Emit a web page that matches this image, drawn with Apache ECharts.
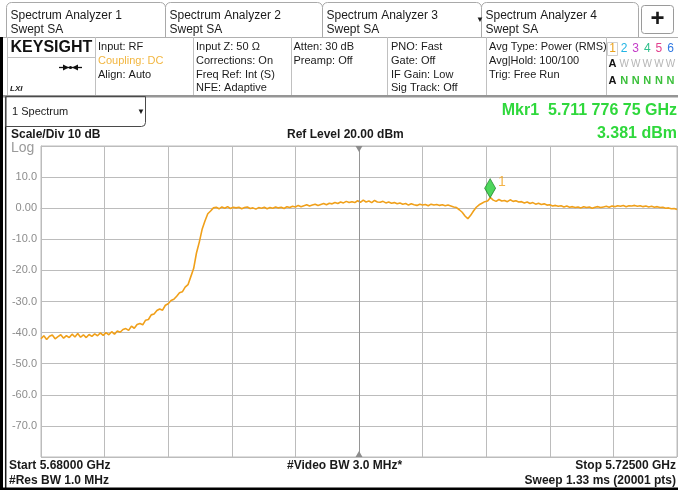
<!DOCTYPE html>
<html><head><meta charset="utf-8">
<script src="https://cdn.jsdelivr.net/npm/echarts/dist/echarts.min.js"></script>
<style>html,body{margin:0;padding:0;background:#fff}#c{width:678px;height:490px}</style>
</head><body><div id="c"></div>
<script>
// ---------------- data ----------------
const startFreqGHz = 5.68;
const stopFreqGHz = 5.725;
const freqStepMHz = 0.2;          // trace sample spacing (offset from start)
const refLevelDb = 20;
const bottomDb = -80;
const scaleDivDb = 10;
const freqDivMHz = 4.5;
// trace level (dBm), one value every 0.2 MHz from 5.680 GHz
const traceDb = [
  -42.0,-41.0,-42.2,-41.2,-40.8,-42.0,-41.3,-40.7,-41.8,-41.0,
  -41.6,-40.5,-41.4,-40.3,-41.5,-40.7,-41.6,-40.6,-41.2,-40.4,
  -41.0,-40.1,-40.9,-40.0,-40.7,-39.7,-40.5,-39.5,-39.9,-39.0,
  -38.7,-39.3,-37.9,-38.6,-37.4,-37.1,-37.5,-36.0,-35.8,-34.3,
  -34.0,-32.9,-32.4,-32.8,-31.2,-30.7,-29.7,-29.3,-28.3,-27.2,
  -26.9,-25.4,-24.6,-22.0,-19.4,-14.4,-10.9,-6.8,-4.1,-1.8,
  -0.9,0.1,0.3,-0.2,0.4,0.0,0.5,-0.1,0.3,0.1,
  0.3,-0.2,0.2,0.4,-0.1,0.1,-0.3,0.2,0.0,0.3,
  -0.2,0.2,0.0,0.4,0.1,0.3,-0.1,0.5,0.2,0.6,
  0.4,0.9,0.5,0.8,1.1,0.7,1.0,1.3,0.9,1.2,
  1.5,1.1,1.6,1.4,1.8,1.5,2.0,1.7,2.2,1.8,
  2.1,1.8,2.4,1.9,2.6,2.0,2.3,1.8,2.5,2.0,
  1.9,2.2,1.7,2.0,1.6,1.8,1.4,1.7,1.3,1.5,
  1.0,1.4,1.1,0.9,1.3,1.0,1.2,0.8,1.3,1.0,
  1.2,0.9,1.1,0.8,1.0,0.7,0.4,0.2,-0.5,-1.3,
  -2.5,-3.4,-2.3,-0.9,0.3,1.1,1.6,2.1,2.3,3.4,
  2.6,2.2,2.8,2.3,2.5,2.1,2.7,2.2,2.4,2.0,
  2.1,1.7,2.0,1.5,1.8,1.3,1.6,1.2,1.4,1.0,
  1.1,0.7,0.9,0.6,0.8,0.4,0.7,0.3,0.5,0.2,
  0.4,0.1,0.5,0.2,0.4,0.0,0.3,0.5,0.2,0.4,
  0.6,0.3,0.7,0.5,0.8,0.6,0.9,0.5,0.8,0.7,
  0.9,0.6,0.8,0.5,0.7,0.4,0.6,0.3,0.5,0.2,
  0.3,0.0,0.1,-0.2,-0.1,-0.4
];
const markerFreqGHz = 5.71177675;
const markerDb = 3.381;

// ---------------- texts ----------------
const tabTitles = ['Spectrum Analyzer 1','Spectrum Analyzer 2','Spectrum Analyzer 3','Spectrum Analyzer 4'];
const tabSub = 'Swept SA';
const col1 = ['Input: RF','Coupling: DC','Align: Auto'];
const col2 = ['Input Z: 50 \u03A9','Corrections: On','Freq Ref: Int (S)','NFE: Adaptive'];
const col3 = ['Atten: 30 dB','Preamp: Off'];
const col4 = ['PNO: Fast','Gate: Off','IF Gain: Low','Sig Track: Off'];
const col5 = ['Avg Type: Power (RMS)','Avg|Hold: 100/100','Trig: Free Run'];
const traceNums = ['1','2','3','4','5','6'];
const traceTypeRow = ['A','W','W','W','W','W'];
const traceDetRow = ['A','N','N','N','N','N'];

const FF = '"Liberation Sans", Arial, sans-serif';
const FONT = (sz, bold) => (bold ? 'bold ' : '') + sz + 'px ' + FF;

const g = [];
function T(text, x, y, sz, opt) {
  opt = opt || {};
  g.push({type:'text', silent:true, z:20, style:{text:text, x:x, y:y, font:FONT(sz, opt.bold),
    fill:opt.fill || '#1a1a1a', align:opt.align || 'left', verticalAlign:'middle'}});
}
function R(x, y, w, h, style, r) {
  g.push({type:'rect', silent:true, z:15, shape:{x:x, y:y, width:w, height:h, r:r || 0}, style:style});
}
function L(x1, y1, x2, y2, stroke, lw) {
  g.push({type:'line', silent:true, z:15, shape:{x1:x1, y1:y1, x2:x2, y2:y2}, style:{stroke:stroke, lineWidth:lw || 1}});
}

// tabs
const tabX = [6.5, 165.5, 322.5, 481.5], tabW = [159, 157, 159, 157];
tabTitles.forEach((t, i) => {
  R(tabX[i], 2.5, tabW[i], 35, {fill:'#fff', stroke:'#a9a9a9', lineWidth:1}, [5,5,0,0]);
  T(t, tabX[i] + 4, 16, 12);
  T(tabSub, tabX[i] + 4, 29.5, 12);
});
T('\u25BC', 476, 19.5, 8);
R(641.5, 5.5, 32, 28, {fill:'#fff', stroke:'#9a9a9a', lineWidth:1}, 3);
T('+', 657.5, 19.5, 24, {bold:true, align:'center'});

// header block
L(0, 37.5, 678, 37.5, '#b0b0b0', 1);
[7.5, 95.5, 193.5, 291.5, 387.5, 486.5, 606.5].forEach(x => L(x, 37, x, 95, '#c0c0c0', 1));
L(7, 57.5, 95, 57.5, '#c0c0c0', 1);
R(3, 95, 675, 2.5, {fill:'#959595'});
T('KEYSIGHT', 10.5, 48, 16, {bold:true, fill:'#111'});
// input icon
L(59, 67.5, 82, 67.5, '#111', 1.3);
g.push({type:'polygon', silent:true, z:16, shape:{points:[[63,64.5],[69,67.5],[63,70.5]]}, style:{fill:'#111'}});
g.push({type:'polygon', silent:true, z:16, shape:{points:[[78,64.5],[72,67.5],[78,70.5]]}, style:{fill:'#111'}});
g.push({type:'circle', silent:true, z:16, shape:{cx:70.5, cy:67.5, r:1.6}, style:{fill:'#111'}});
g.push({type:'text', silent:true, z:20, style:{text:'LXI', x:10, y:89, font:'italic bold 8px ' + FF, fill:'#222', verticalAlign:'middle'}});

const rowY = [47, 61, 74.5, 88];
col1.forEach((t, i) => T(t, 98, rowY[i], 11, {fill: i === 1 ? '#f2b640' : '#1a1a1a'}));
col2.forEach((t, i) => T(t, 196, rowY[i], 11));
col3.forEach((t, i) => T(t, 293.5, rowY[i], 11));
col4.forEach((t, i) => T(t, 391, rowY[i], 11));
col5.forEach((t, i) => T(t, 489, rowY[i], 11));

// trace indicator panel
const traceColors = ['#eaa21c','#22b4e4','#c43cc8','#2fc08c','#e2408e','#2f78e2'];
R(607.5, 42.5, 10, 13, {fill:'none', stroke:'#d0d0d0', lineWidth:1});
traceNums.forEach((t, i) => T(t, 612.5 + i * 11.6, 48.5, 12, {fill:traceColors[i], align:'center'}));
traceTypeRow.forEach((t, i) => T(t, 612.5 + i * 11.6, 64, i === 0 ? 11 : 10,
  {bold: i === 0, fill: i === 0 ? '#111' : '#b5b5b5', align:'center'}));
traceDetRow.forEach((t, i) => T(t, 612.5 + i * 11.6, 81, 11,
  {bold:true, fill: i === 0 ? '#111' : '#3cc03c', align:'center'}));

// left/bottom frame
R(0, 37, 3, 453, {fill:'#000'});
L(5.7, 97, 5.7, 490, '#1a1a1a', 1.5);
R(0, 487.5, 678, 2.5, {fill:'#000'});

// view selector
R(5.5, 96.5, 140, 30, {fill:'none', stroke:'#4a4a4a', lineWidth:1}, [0,0,4,0]);
T('1 Spectrum', 12, 112, 11);
T('\u25BC', 141, 112, 8, {align:'center'});

// annotations around the plot
const mkrOffsetMHz = (markerFreqGHz - startFreqGHz) * 1000;
const fmtSpaced = v => {
  const s = v.toFixed(8); const [ip, fp] = s.split('.');
  return ip + '.' + fp.slice(0,3) + ' ' + fp.slice(3,6) + ' ' + fp.slice(6,8);
};
T('Mkr1  ' + fmtSpaced(markerFreqGHz) + ' GHz', 677, 110.5, 16, {bold:true, fill:'#2fd83c', align:'right'});
T(markerDb.toFixed(3) + ' dBm', 677, 134, 16, {bold:true, fill:'#2fd83c', align:'right'});
T('Scale/Div ' + scaleDivDb + ' dB', 11, 134.5, 12, {bold:true});
T('Ref Level ' + refLevelDb.toFixed(2) + ' dBm', 287, 134.5, 12, {bold:true});
T('Log', 11, 148.5, 14, {fill:'#9a9a9a'});
T('Start ' + startFreqGHz.toFixed(5) + ' GHz', 9, 466, 12, {bold:true});
T('#Video BW 3.0 MHz*', 287, 466, 12, {bold:true});
T('Stop ' + stopFreqGHz.toFixed(5) + ' GHz', 676, 466, 12, {bold:true, align:'right'});
T('#Res BW 1.0 MHz', 9, 481, 12, {bold:true});
T('Sweep 1.33 ms (20001 pts)', 676, 481, 12, {bold:true, align:'right'});

const spanMHz = (stopFreqGHz - startFreqGHz) * 1000;
const gridColor = '#bcbcbc';

const chart = echarts.init(document.getElementById('c'), null, {renderer:'canvas'});
chart.setOption({
  animation:false,
  backgroundColor:'#fff',
  textStyle:{fontFamily:FF},
  grid:{left:41, top:146, width:636, height:311, show:true, borderColor:gridColor, borderWidth:1},
  xAxis:{type:'value', min:0, max:spanMHz, interval:freqDivMHz,
    axisLabel:{show:false}, axisTick:{show:false},
    axisLine:{show:true, lineStyle:{color:gridColor}},
    splitLine:{show:true, lineStyle:{color:gridColor, width:1}}},
  yAxis:{type:'value', min:bottomDb, max:refLevelDb, interval:scaleDivDb,
    axisTick:{show:false},
    axisLine:{show:true, lineStyle:{color:gridColor}},
    splitLine:{show:true, lineStyle:{color:gridColor, width:1}},
    axisLabel:{color:'#8c8c8c', fontSize:11, margin:4, fontFamily:FF,
      formatter:v => (v === refLevelDb || v === bottomDb) ? '' : (v === 0 ? '0.00' : v.toFixed(1))}},
  series:[
    {type:'line', silent:true, symbol:'none', z:3,
      data:traceDb.map((v, i) => [i * freqStepMHz, v]),
      lineStyle:{color:'#f0a01a', width:1.6},
      markLine:{silent:true, symbol:'none', label:{show:false}, animation:false,
        lineStyle:{color:'#959595', type:'solid', width:1},
        data:[{xAxis:spanMHz / 2}]},
      markPoint:{silent:true, label:{show:false}, animation:false,
        itemStyle:{color:'#8c8c8c'},
        data:[
          {coord:[spanMHz / 2, refLevelDb], symbol:'triangle', symbolSize:[7,6], symbolRotate:180, symbolOffset:[0,3]},
          {coord:[spanMHz / 2, bottomDb], symbol:'triangle', symbolSize:[7,6], symbolOffset:[0,-3]}
        ]}},
    {type:'scatter', silent:true, z:5,
      data:[[mkrOffsetMHz, markerDb]],
      symbol:'diamond', symbolSize:[11,19], symbolOffset:[0,-9.5],
      itemStyle:{color:'#22cc33', borderColor:'#157a20', borderWidth:0.8},
      label:{show:true, formatter:'1', position:'right', distance:2, offset:[0,-6],
        color:'#f0a01a', fontSize:14, fontFamily:FF}}
  ],
  graphic:g
});
</script>
</body></html>
